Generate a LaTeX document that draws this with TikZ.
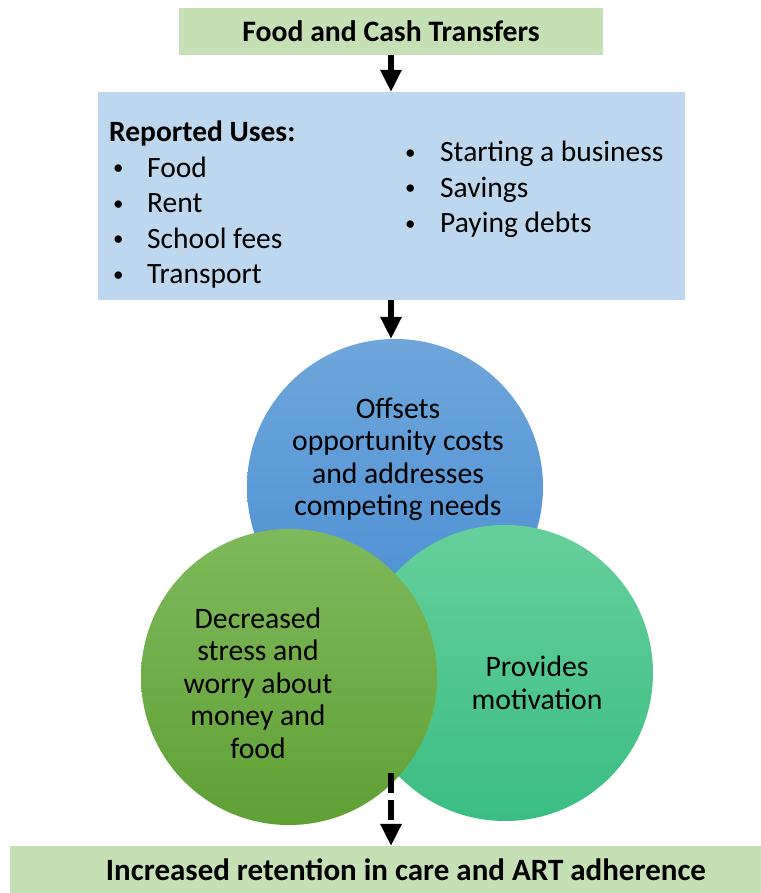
\documentclass[tikz,border=0pt]{standalone}
\usepackage{fontspec}
\setmainfont{Carlito}
\usepackage{tikz}
\usetikzlibrary{arrows.meta,positioning,calc}
\definecolor{boxgreen}{HTML}{C5E0B4}
\definecolor{boxblue}{HTML}{BDD7EE}
\definecolor{costtop}{RGB}{110,166,219}
\definecolor{costbot}{RGB}{74,142,211}
\definecolor{motivtop}{RGB}{102,207,154}
\definecolor{motivbot}{RGB}{58,190,131}
\definecolor{stresstop}{RGB}{126,185,91}
\definecolor{stressbot}{RGB}{97,160,53}
\newcommand{\smallbullet}{\raisebox{2.5pt}{\fontsize{21}{21}\selectfont\textbullet}}
\tikzset{
  greenbox/.style={fill=boxgreen, inner sep=0pt, outer sep=0pt,
                   font=\fontsize{29.7}{35}\selectfont\bfseries},
  usebox/.style={fill=boxblue, inner sep=0pt, outer sep=0pt},
  listtext/.style={inner sep=0pt, anchor=base west, font=\fontsize{29.5}{35}\selectfont},
  bubble/.style={circle, inner sep=0pt, outer sep=0pt, minimum size=296pt},
  bubbletext/.style={align=center, inner sep=0pt, font=\fontsize{29.7}{32.5}\selectfont},
  bigarr/.style={-{Triangle[length=22pt,width=20pt]}, line width=6pt},
}

\begin{document}
\begin{tikzpicture}[x=1pt,y=1pt]
\useasboundingbox (0,0) rectangle (760,893);

% boxes at top and bottom
\node[greenbox, minimum width=424pt, minimum height=47pt] (transfers) at (391,861.5)
  {Food and Cash Transfers};
\node[usebox, minimum width=587pt, minimum height=208pt] (uses) at (391,697) {};
\node[greenbox, minimum width=792pt, minimum height=47pt, font=\fontsize{31}{35}\selectfont\bfseries]
  (outcome) at (406,23.5) {Increased retention in care and ART adherence};

% list of uses
\node[listtext, font=\fontsize{29.5}{35}\selectfont\bfseries] (usehead) at (109,751) {Reported Uses:};
\foreach \txt [count=\i] in {Food,Rent,School fees,Transport}
  \node[listtext] (useleft\i) at (113,751-35.5*\i) {\makebox[34pt][l]{\smallbullet}\txt};
\foreach \txt [count=\i] in {Starting a business,Savings,Paying debts}
  \node[listtext] (useright\i) at (405,766.5-35.5*\i) {\makebox[35pt][l]{\smallbullet}\txt};

% three overlapping circles (blue behind, green in front)
\node[bubble, top color=costtop, bottom color=costbot] (costs) at (395,406) {};
\node[bubble, top color=motivtop, bottom color=motivbot] (motiv) at (505,220) {};
\node[bubble, top color=stresstop, bottom color=stressbot] (stress) at (289,216) {};

\node[bubbletext] (coststxt) at ($(costs)+(3,27.5)$)
  {Offsets\\opportunity costs\\and addresses\\competing needs};
\node[bubbletext] (stresstxt) at ($(stress)+(-31,-6)$)
  {Decreased\\stress and\\worry about\\money and\\food};
\node[bubbletext] (motivtxt) at ($(motiv)+(32,-10)$)
  {Provides\\motivation};

% arrows
\draw[bigarr] (transfers.south) -- (uses.north);
\draw[bigarr] (uses.south) -- (uses.south |- costs.north);
\coordinate (meet) at (391,120);
\draw[bigarr, dash pattern=on 20pt off 7pt] (meet) -- (meet |- outcome.north);
\end{tikzpicture}
\end{document}
